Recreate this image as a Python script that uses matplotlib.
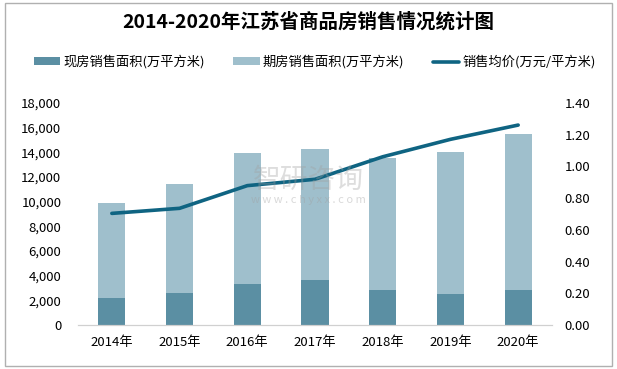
import matplotlib.pyplot as plt
from matplotlib.patches import Rectangle
from matplotlib.ticker import FuncFormatter

plt.rcParams['font.family'] = ['Noto Sans CJK SC', 'DejaVu Sans']

years = ['2014年', '2015年', '2016年', '2017年', '2018年', '2019年', '2020年']
xianfang = [2170, 2600, 3320, 3650, 2840, 2510, 2840]       # 现房销售面积
qifang = [7700, 8810, 10630, 10590, 10700, 11520, 12650]    # 期房销售面积
price = [0.704, 0.736, 0.879, 0.919, 1.061, 1.171, 1.261]   # 销售均价

c_xian = '#5b8fa3'
c_qi = '#9fbfcc'
c_line = '#0f6482'

fig = plt.figure(figsize=(6.17, 3.69), dpi=100)
fig.patches.append(Rectangle((0.008, 0.008), 0.984, 0.984, transform=fig.transFigure,
                             fill=False, edgecolor='#b0b0b0', lw=1))

ax = fig.add_axes([0.1264, 0.1192, 0.7683, 0.6016])
x = range(len(years))
ax.bar(x, xianfang, width=0.4, color=c_xian, label='现房销售面积(万平方米)')
ax.bar(x, qifang, width=0.4, bottom=xianfang, color=c_qi, label='期房销售面积(万平方米)')
ax.set_ylim(0, 18000)
ax.set_yticks(range(0, 18001, 2000))
ax.yaxis.set_major_formatter(FuncFormatter(lambda v, p: '{:,.0f}'.format(v)))
ax.set_xlim(-0.5, len(years) - 0.5)
ax.set_xticks(list(x))
ax.set_xticklabels(years, fontsize=9.5)

ax2 = ax.twinx()
ax2.plot(x, price, color=c_line, lw=2.6, solid_joinstyle='round', solid_capstyle='round',
         label='销售均价(万元/平方米)')
ax2.set_ylim(0, 1.4)
ax2.set_yticks([i * 0.2 for i in range(8)])
ax2.yaxis.set_major_formatter(FuncFormatter(lambda v, p: '{:.2f}'.format(v)))

for a in (ax, ax2):
    for s in ('top', 'left', 'right'):
        a.spines[s].set_visible(False)
    a.spines['bottom'].set_color('#d0d0d0')
    a.tick_params(length=0, labelsize=9.5)
ax.tick_params(axis='y', pad=12)
ax2.tick_params(axis='y', pad=9)
ax.tick_params(axis='x', pad=8)

fig.text(0.5, 1 - 22 / 369, '2014-2020年江苏省商品房销售情况统计图', ha='center', va='center',
         fontsize=14, fontweight='bold')

h1, l1 = ax.get_legend_handles_labels()
h2, l2 = ax2.get_legend_handles_labels()
fig.legend(h1 + h2, l1 + l2, loc='center', bbox_to_anchor=(0.51, 1 - 62 / 369), ncol=3,
           frameon=False, fontsize=9.5, handlelength=2.0, handleheight=0.5,
           handletextpad=0.2, columnspacing=2.2)

# watermark
fig.text(0.5, 1 - 180 / 369, '智研咨询', ha='center', va='center', fontsize=20, color='#a0a0a0', alpha=0.35)
fig.text(0.5, 1 - 200 / 369, 'w w w . c h y x x . c o m', ha='center', va='center', fontsize=8,
         color='#a0a0a0', alpha=0.4)

fig.savefig('out.png', dpi=100)
